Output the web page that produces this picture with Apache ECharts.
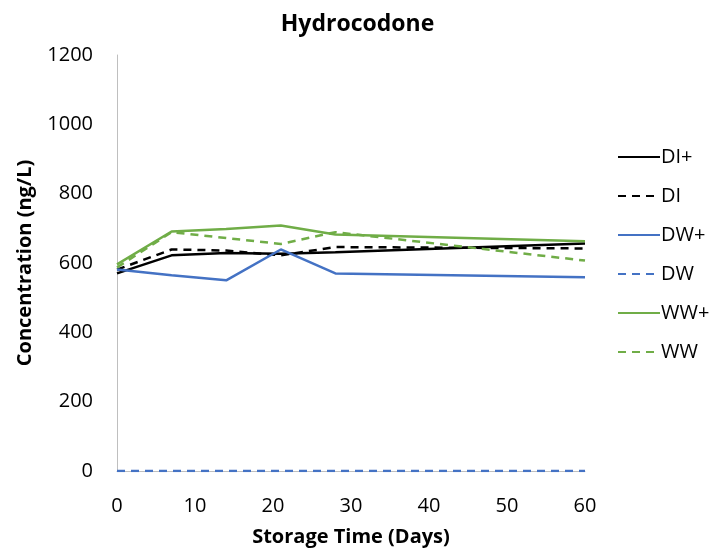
<!DOCTYPE html>
<html>
<head>
<meta charset="utf-8">
<script src="https://cdn.jsdelivr.net/npm/echarts@6/dist/echarts.min.js"></script>
<style>html,body{margin:0;padding:0;background:#fff}#c{width:715px;height:552px}</style>
</head>
<body>
<div id="c"></div>
<script>
const days = [0, 7, 14, 21, 28, 60];
const DIplus = [570, 622, 629, 627, 631, 656];
const DI = [581, 639, 636, 622, 646, 642];
const DWplus = [581, 565, 550, 639, 570, 559];
const DW = [0, 0, 0, 0, 0, 0];
const WWplus = [596, 691, 698, 708, 682, 663];
const WW = [587, 689, 672, 655, 689, 607];
const xTicks = [0, 10, 20, 30, 40, 50, 60];
const yTicks = [0, 200, 400, 600, 800, 1000, 1200];

const FONT = '"Open Sans", sans-serif';
function mk(name, vals, color, dashed) {
  return {
    name: name, type: 'line', symbol: 'none',
    data: days.map((d, i) => [d, vals[i]]),
    lineStyle: { color: color, width: 2.5, type: dashed ? [8, 6] : 'solid' },
    itemStyle: { color: color },
    z: 2
  };
}
const chart = echarts.init(document.getElementById('c'));
chart.setOption({
  animation: false,
  backgroundColor: '#fff',
  title: { text: 'Hydrocodone', left: 'center', top: 8,
    textStyle: { fontFamily: FONT, fontSize: 23, fontWeight: 'bold', color: '#000' } },
  grid: { left: 117, right: 130, top: 55, bottom: 80 },
  xAxis: {
    type: 'value', min: xTicks[0], max: xTicks[xTicks.length - 1], interval: 10,
    name: 'Storage Time (Days)', nameLocation: 'middle', nameGap: 56,
    nameTextStyle: { fontFamily: FONT, fontSize: 20, fontWeight: 'bold', color: '#000' },
    axisLine: { show: true, lineStyle: { color: '#bfbfbf', width: 1 } },
    axisTick: { show: false }, splitLine: { show: false },
    axisLabel: { fontFamily: FONT, fontSize: 20, color: '#000', margin: 25, formatter: v => String(v) }
  },
  yAxis: {
    type: 'value', min: yTicks[0], max: yTicks[yTicks.length - 1], interval: 200,
    name: 'Concentration (ng/L)', nameLocation: 'middle', nameGap: 82,
    nameTextStyle: { fontFamily: FONT, fontSize: 20, fontWeight: 'bold', color: '#000' },
    axisLine: { show: true, lineStyle: { color: '#bfbfbf', width: 1 } },
    axisTick: { show: false }, splitLine: { show: false },
    axisLabel: { fontFamily: FONT, fontSize: 20, color: '#000', margin: 24, formatter: v => String(v) }
  },
  legend: {
    orient: 'vertical', left: 612, top: 142,
    itemWidth: 42, itemHeight: 14, itemGap: 19,
    itemStyle: { opacity: 0 },
    textStyle: { fontFamily: FONT, fontSize: 20, color: '#000', padding: [0, 0, 0, -4] },
    data: ['DI+', 'DI', 'DW+', 'DW', 'WW+', 'WW']
  },
  series: [
    mk('DI+', DIplus, '#000000', false),
    mk('DI', DI, '#000000', true),
    mk('DW+', DWplus, '#4472C4', false),
    mk('DW', DW, '#4472C4', true),
    mk('WW+', WWplus, '#70AD47', false),
    mk('WW', WW, '#70AD47', true)
  ]
});
</script>
</body>
</html>
